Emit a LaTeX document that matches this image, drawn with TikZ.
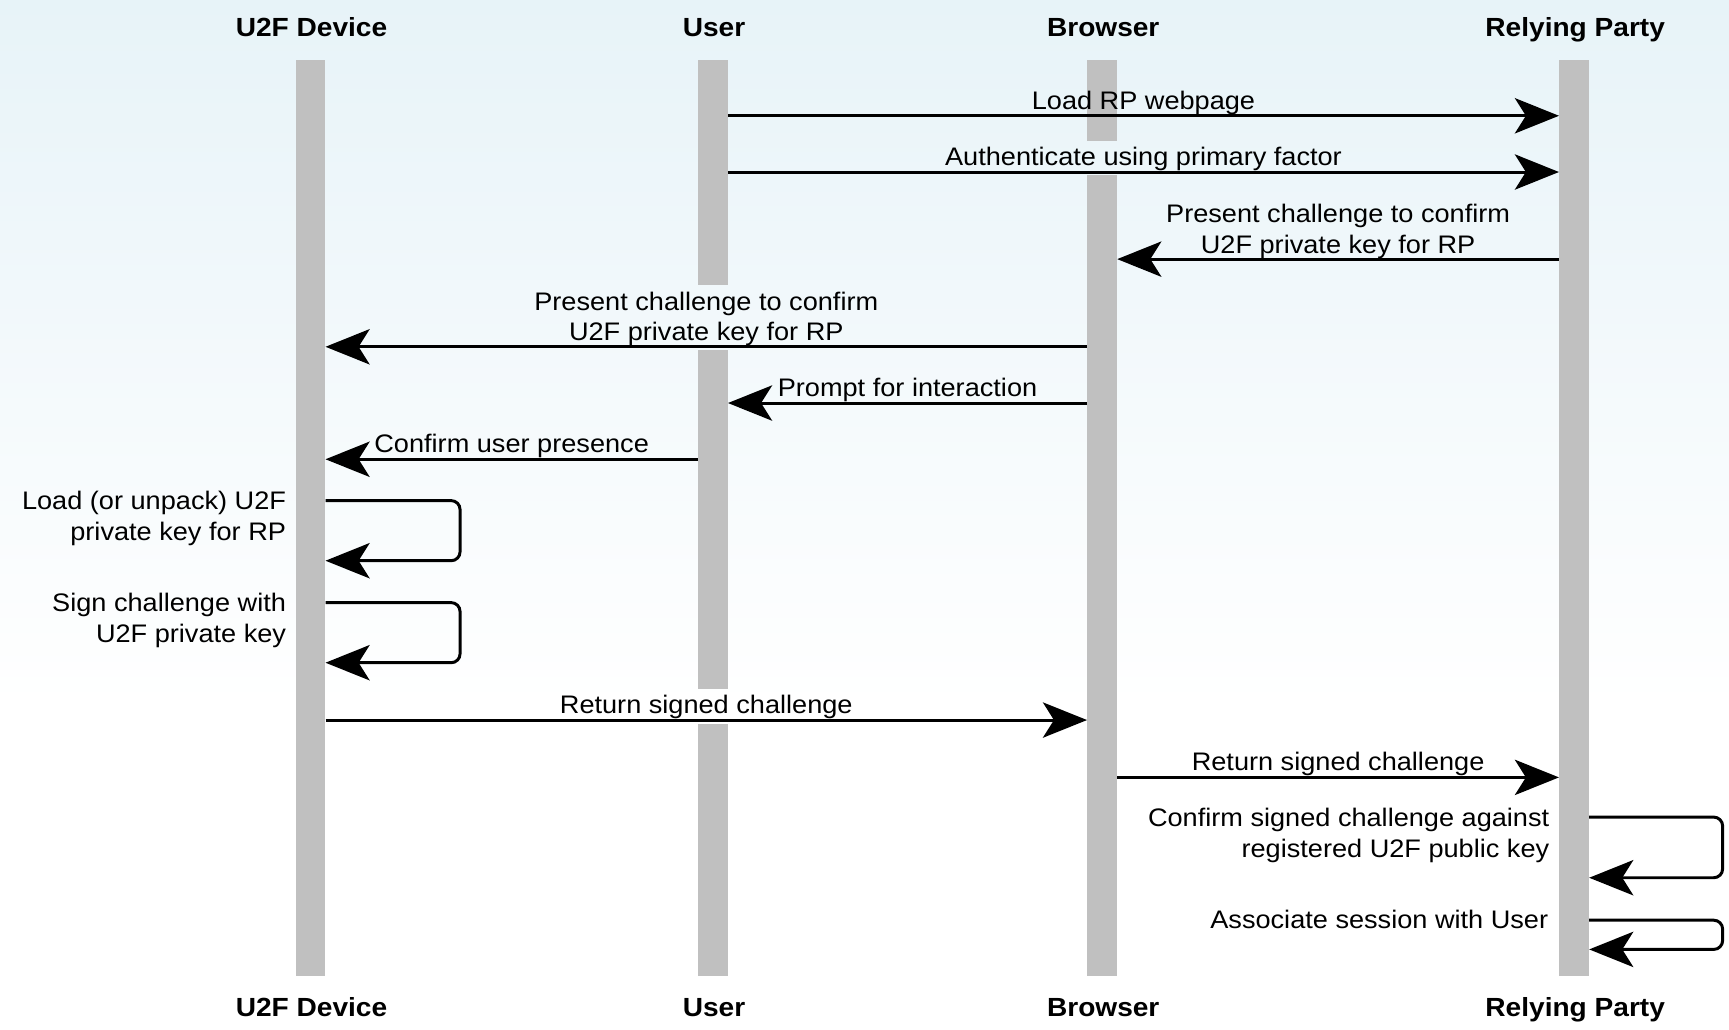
\documentclass[tikz,border=0pt]{standalone}
\usepackage{fontspec}
\setmainfont{Liberation Sans}[FakeStretch=1.07]
\usetikzlibrary{arrows.meta}
\definecolor{bgtop}{RGB}{231,243,248}
\definecolor{barc}{RGB}{192,192,192}
\newcommand\lblfont{\fontsize{23}{27.8}\selectfont}
\newcommand\hdrfont{\fontsize{23.8}{28}\selectfont\bfseries}
\newcommand\paintbg{%
  \shade[top color=bgtop, bottom color=white] (0,0) rectangle (1568,640);
  \fill[white] (0,640) rectangle (1568,934);}
\begin{document}
\begin{tikzpicture}[x=1pt,y=-1pt,
  lifeline/.style={rectangle, fill=barc, draw=none, inner sep=0pt,
                   minimum width=27pt, minimum height=831pt},
  hdr/.style={font=\hdrfont, inner sep=0pt, anchor=base},
  lbl/.style={font=\lblfont, inner sep=0pt, anchor=base},
  msg/.style={line width=2.7pt, -{Stealth[length=40pt,width=32pt,inset=10pt]}},
  selfmsg/.style={msg, rounded corners=8pt}]
\useasboundingbox (0,0) rectangle (1568,934);
\paintbg
% lifelines
\node[lifeline] (dev) at (281.5,469.5) {};
\node[lifeline] (usr) at (646.5,469.5) {};
\node[lifeline] (brw) at (999.5,469.5) {};
\node[lifeline] (rp)  at (1427.5,469.5) {};
% gaps behind labels
\begin{scope}\clip (984,128.5) rectangle (1015,158); \paintbg\end{scope}
\begin{scope}\clip (631,258.5) rectangle (662,317); \paintbg\end{scope}
\begin{scope}\clip (631,625) rectangle (662,656); \paintbg\end{scope}
% headers
\node[hdr] (h1) at (282.5,33.2) {U2F Device};
\node[hdr] (h2) at (647.5,33.2) {User};
\node[hdr] (h3) at (1000.5,33.2) {Browser};
\node[hdr] (h4) at (1428.5,33.2) {Relying Party};
\node[hdr] (f1) at (282.5,922) {U2F Device};
\node[hdr] (f2) at (647.5,922) {User};
\node[hdr] (f3) at (1000.5,922) {Browser};
\node[hdr] (f4) at (1428.5,922) {Relying Party};
% message rows
\coordinate (r1) at (0,105);
\coordinate (r2) at (0,156);
\coordinate (r3) at (0,235);
\coordinate (r4) at (0,314.5);
\coordinate (r5) at (0,365.5);
\coordinate (r6) at (0,416.5);
\coordinate (r7) at (0,454);
\coordinate (r7b) at (0,508.5);
\coordinate (r8) at (0,546.5);
\coordinate (r8b) at (0,601);
\coordinate (r9) at (0,653);
\coordinate (r10) at (0,705);
\coordinate (r11) at (0,741);
\coordinate (r11b) at (0,796);
\coordinate (r12) at (0,834.5);
\coordinate (r12b) at (0,861);
% messages
\draw[msg] (usr.east |- r1) -- node[lbl, yshift=6pt] (t1) {Load RP webpage} (rp.west |- r1);
\draw[msg] (usr.east |- r2) -- node[lbl, yshift=6pt] (t2) {Authenticate using primary factor} (rp.west |- r2);
\draw[msg] (rp.west |- r3) -- node[lbl, yshift=5.5pt] (t3) {\begin{tabular}[b]{@{}c@{}}Present challenge to confirm\\U2F private key for RP\end{tabular}} (brw.east |- r3);
\draw[msg] (brw.west |- r4) -- node[lbl, yshift=5.5pt] (t4) {\begin{tabular}[b]{@{}c@{}}Present challenge to confirm\\U2F private key for RP\end{tabular}} (dev.east |- r4);
\draw[msg] (brw.west |- r5) -- node[lbl, yshift=6pt] (t5) {Prompt for interaction} (usr.east |- r5);
\draw[msg] (usr.west |- r6) -- node[lbl, yshift=6pt] (t6) {Confirm user presence} (dev.east |- r6);
% self messages on U2F device
\coordinate (s7) at (dev.east |- r7);
\coordinate (s8) at (dev.east |- r8);
\draw[selfmsg] (s7) -- ++(122,0) |- (dev.east |- r7b);
\node[lbl, anchor=base east] (t7) at ([xshift=-35.6pt,yshift=-8.5pt]s7) {\begin{tabular}[t]{@{}r@{}}Load (or unpack) U2F\\private key for RP\end{tabular}};
\draw[selfmsg] (s8) -- ++(122,0) |- (dev.east |- r8b);
\node[lbl, anchor=base east] (t8) at ([xshift=-35.6pt,yshift=-8.5pt]s8) {\begin{tabular}[t]{@{}r@{}}Sign challenge with\\U2F private key\end{tabular}};
\draw[msg] (dev.east |- r9) -- node[lbl, yshift=6pt] (t9) {Return signed challenge} (brw.west |- r9);
\draw[msg] (brw.east |- r10) -- node[lbl, yshift=6pt] (t10) {Return signed challenge} (rp.west |- r10);
% self messages on relying party
\coordinate (s11) at (rp.east |- r11);
\coordinate (s12) at (rp.east |- r12);
\draw[selfmsg] (s11) -- ++(121,0) |- (rp.east |- r11b);
\node[lbl, anchor=base east] (t11) at ([xshift=-36pt,yshift=-8.7pt]s11) {\begin{tabular}[t]{@{}r@{}}Confirm signed challenge against\\registered U2F public key\end{tabular}};
\draw[selfmsg] (s12) -- ++(121,0) |- (rp.east |- r12b);
\node[lbl, anchor=base east] (t12) at ([xshift=-37pt,yshift=-7.6pt]s12) {Associate session with User};
\end{tikzpicture}
\end{document}
